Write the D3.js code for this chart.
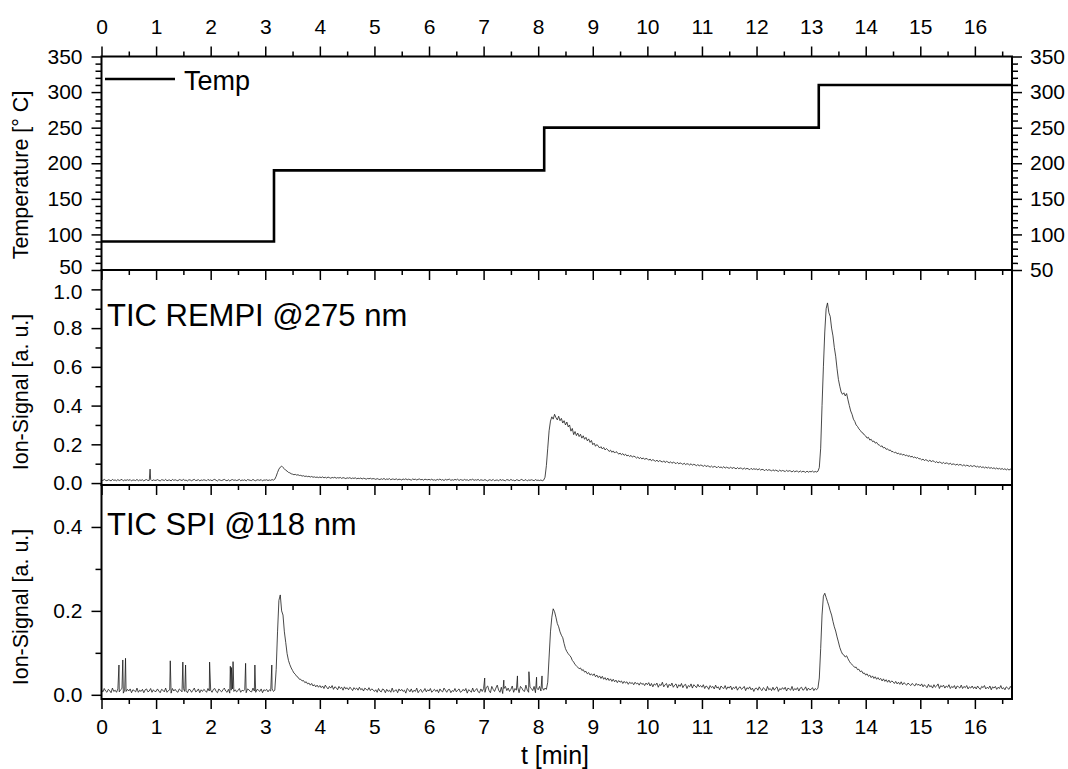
<!DOCTYPE html>
<html><head><meta charset="utf-8">
<script src="https://cdn.jsdelivr.net/npm/d3@7"></script>
<style>body{margin:0;background:#fff}svg{display:block}</style>
</head><body>
<svg id="c" width="1068" height="769"></svg>
<script>
// ---------- data ----------
const timeStart = 0, timeStep = 0.025; // sampling of the ion-signal traces (min)

const rempiValues = [
0.016,0.013,0.019,0.014,0.012,0.017,0.015,0.011,0.019,0.014,0.016,0.012,0.018,0.013,0.016,0.019,0.011,0.016,0.014,0.017,0.014,0.018,0.011,0.016,0.015,0.013,0.019,0.012,0.016,0.014,0.017,0.011,0.016,0.018,0.013,0.014,0.019,0.012,0.016,0.014,
0.014,0.018,0.014,0.011,0.017,0.016,0.013,0.019,0.012,0.015,0.016,0.011,0.019,0.014,0.017,0.014,0.012,0.018,0.016,0.013,0.019,0.014,0.015,0.011,0.017,0.016,0.012,0.016,0.019,0.013,0.014,0.018,0.011,0.016,0.014,0.017,0.015,0.012,0.019,0.014,
0.016,0.012,0.017,0.019,0.014,0.011,0.018,0.015,0.013,0.016,0.019,0.014,0.012,0.017,0.011,0.016,0.018,0.014,0.016,0.013,0.015,0.019,0.012,0.016,0.014,0.017,0.011,0.018,0.016,0.014,0.013,0.019,0.014,0.012,0.017,0.016,0.014,0.018,0.011,0.016,
0.015,0.017,0.013,0.016,0.014,0.018,0.015,0.020,0.035,0.055,0.072,0.082,0.088,0.080,0.074,0.066,0.062,0.055,0.053,0.048,0.046,0.043,0.045,0.041,0.043,0.039,0.040,0.036,0.038,0.034,0.036,0.033,0.035,0.031,0.034,0.030,0.032,0.029,0.031,0.028,
0.031,0.028,0.032,0.027,0.030,0.026,0.031,0.028,0.025,0.029,0.027,0.030,0.025,0.028,0.026,0.029,0.024,0.028,0.026,0.023,0.027,0.025,0.028,0.023,0.026,0.024,0.027,0.022,0.025,0.023,0.026,0.021,0.025,0.023,0.020,0.024,0.022,0.025,0.021,0.023,
0.022,0.019,0.023,0.020,0.018,0.022,0.019,0.024,0.018,0.021,0.019,0.023,0.017,0.021,0.020,0.018,0.022,0.017,0.020,0.019,0.016,0.021,0.018,0.022,0.017,0.020,0.018,0.015,0.021,0.018,0.020,0.016,0.019,0.021,0.017,0.019,0.015,0.020,0.018,0.017,
0.019,0.016,0.020,0.015,0.017,0.014,0.019,0.016,0.021,0.015,0.018,0.013,0.019,0.016,0.018,0.020,0.014,0.017,0.015,0.019,0.016,0.020,0.013,0.018,0.016,0.014,0.019,0.015,0.017,0.013,0.018,0.016,0.020,0.014,0.017,0.015,0.019,0.013,0.017,0.015,
0.014,0.018,0.014,0.011,0.017,0.016,0.013,0.019,0.012,0.015,0.016,0.011,0.019,0.014,0.017,0.014,0.012,0.018,0.016,0.013,0.019,0.014,0.015,0.011,0.017,0.016,0.012,0.016,0.019,0.013,0.014,0.018,0.011,0.016,0.014,0.017,0.015,0.012,0.018,0.014,
0.015,0.013,0.016,0.012,0.015,0.030,0.090,0.180,0.270,0.320,0.342,0.330,0.355,0.338,0.326,0.345,0.322,0.334,0.310,0.322,0.300,0.315,0.290,0.300,0.268,0.282,0.250,0.266,0.245,0.258,0.240,0.252,0.232,0.244,0.226,0.236,0.218,0.228,0.210,0.220,
0.198,0.206,0.190,0.199,0.191,0.181,0.188,0.176,0.184,0.171,0.178,0.172,0.163,0.170,0.159,0.166,0.155,0.162,0.158,0.149,0.155,0.146,0.152,0.143,0.149,0.140,0.144,0.137,0.143,0.134,0.139,0.136,0.129,0.135,0.126,0.132,0.124,0.130,0.122,0.127,
0.125,0.118,0.124,0.115,0.121,0.117,0.112,0.119,0.110,0.116,0.113,0.108,0.115,0.106,0.112,0.109,0.104,0.110,0.102,0.108,0.105,0.100,0.107,0.099,0.104,0.101,0.096,0.103,0.095,0.100,0.098,0.093,0.100,0.092,0.097,0.094,0.089,0.096,0.088,0.093,
0.091,0.086,0.093,0.085,0.089,0.087,0.082,0.088,0.081,0.086,0.084,0.079,0.086,0.080,0.083,0.078,0.085,0.077,0.082,0.079,0.076,0.083,0.075,0.080,0.078,0.073,0.080,0.074,0.078,0.076,0.071,0.078,0.072,0.076,0.073,0.069,0.076,0.070,0.074,0.071,
0.073,0.068,0.074,0.067,0.071,0.069,0.064,0.071,0.065,0.069,0.067,0.062,0.069,0.063,0.067,0.064,0.060,0.067,0.061,0.065,0.063,0.059,0.066,0.060,0.064,0.062,0.057,0.064,0.058,0.062,0.061,0.056,0.063,0.057,0.061,0.059,0.055,0.062,0.056,0.060,
0.058,0.062,0.056,0.060,0.057,0.061,0.080,0.180,0.400,0.600,0.780,0.900,0.930,0.880,0.860,0.800,0.760,0.700,0.655,0.590,0.535,0.500,0.470,0.458,0.466,0.450,0.462,0.430,0.400,0.372,0.355,0.330,0.318,0.300,0.292,0.280,0.272,0.262,0.258,0.248,
0.243,0.232,0.236,0.222,0.226,0.214,0.217,0.206,0.210,0.199,0.196,0.189,0.192,0.181,0.184,0.174,0.177,0.168,0.171,0.162,0.163,0.156,0.160,0.151,0.155,0.147,0.152,0.144,0.149,0.141,0.145,0.137,0.142,0.134,0.139,0.131,0.135,0.128,0.132,0.125,
0.126,0.119,0.124,0.116,0.121,0.117,0.112,0.119,0.110,0.115,0.113,0.106,0.111,0.104,0.109,0.106,0.101,0.107,0.100,0.104,0.102,0.097,0.103,0.095,0.099,0.097,0.093,0.098,0.092,0.096,0.094,0.089,0.095,0.088,0.092,0.090,0.086,0.091,0.085,0.089,
0.089,0.083,0.087,0.081,0.086,0.080,0.084,0.078,0.083,0.077,0.082,0.076,0.080,0.075,0.079,0.073,0.078,0.072,0.076,0.071,0.075,0.070,0.074,0.068,0.073,0.067,0.072,0.066,0.070
];
const rempiSpikes = [[0.89, 0.072]];

const spiValues = [
0.012,0.007,0.015,0.009,0.006,0.013,0.010,0.005,0.016,0.008,0.011,0.006,0.014,0.007,0.012,0.015,0.004,0.011,0.008,0.013,0.009,0.014,0.005,0.012,0.010,0.007,0.016,0.006,0.011,0.008,0.013,0.005,0.012,0.014,0.007,0.009,0.015,0.006,0.012,0.008,
0.008,0.014,0.009,0.005,0.013,0.011,0.007,0.016,0.006,0.010,0.012,0.004,0.015,0.009,0.013,0.008,0.006,0.014,0.011,0.007,0.015,0.008,0.010,0.005,0.013,0.012,0.006,0.011,0.016,0.007,0.009,0.014,0.005,0.012,0.008,0.013,0.010,0.006,0.015,0.009,
0.011,0.006,0.013,0.015,0.008,0.005,0.014,0.010,0.007,0.012,0.016,0.009,0.006,0.013,0.004,0.011,0.014,0.008,0.012,0.007,0.010,0.015,0.006,0.011,0.009,0.013,0.005,0.014,0.012,0.008,0.007,0.016,0.009,0.006,0.013,0.011,0.008,0.014,0.005,0.012,
0.010,0.013,0.007,0.012,0.009,0.014,0.008,0.011,0.060,0.150,0.225,0.238,0.200,0.190,0.150,0.125,0.098,0.082,0.072,0.064,0.058,0.052,0.049,0.044,0.042,0.037,0.037,0.033,0.034,0.029,0.031,0.026,0.028,0.023,0.027,0.021,0.024,0.019,0.023,0.018,
0.022,0.017,0.021,0.015,0.023,0.018,0.014,0.020,0.016,0.022,0.013,0.019,0.017,0.012,0.020,0.015,0.018,0.011,0.019,0.014,0.017,0.012,0.018,0.015,0.010,0.017,0.013,0.016,0.011,0.018,0.012,0.015,0.009,0.016,0.013,0.011,0.017,0.010,0.014,0.012,
0.008,0.012,0.006,0.015,0.009,0.007,0.014,0.012,0.005,0.013,0.008,0.011,0.006,0.016,0.007,0.010,0.012,0.005,0.014,0.009,0.013,0.008,0.011,0.004,0.015,0.012,0.007,0.014,0.006,0.011,0.008,0.016,0.005,0.010,0.013,0.006,0.009,0.015,0.007,0.012,
0.009,0.015,0.006,0.010,0.013,0.008,0.012,0.005,0.014,0.009,0.007,0.016,0.011,0.006,0.012,0.013,0.005,0.010,0.008,0.015,0.007,0.011,0.014,0.006,0.008,0.013,0.009,0.015,0.004,0.012,0.010,0.006,0.016,0.007,0.011,0.015,0.007,0.005,0.014,0.008,
0.015,0.006,0.018,0.021,0.010,0.005,0.020,0.013,0.008,0.016,0.023,0.011,0.006,0.018,0.003,0.015,0.020,0.010,0.016,0.008,0.013,0.021,0.006,0.015,0.011,0.018,0.005,0.020,0.016,0.010,0.008,0.023,0.011,0.006,0.018,0.015,0.010,0.020,0.005,0.016,
0.012,0.020,0.009,0.018,0.011,0.016,0.013,0.030,0.090,0.150,0.185,0.205,0.198,0.185,0.170,0.162,0.150,0.142,0.136,0.122,0.110,0.103,0.098,0.094,0.090,0.082,0.078,0.072,0.069,0.066,0.062,0.064,0.058,0.060,0.054,0.056,0.050,0.053,0.047,0.050,
0.046,0.050,0.043,0.047,0.041,0.045,0.039,0.044,0.037,0.041,0.035,0.040,0.034,0.038,0.032,0.037,0.031,0.035,0.029,0.034,0.030,0.033,0.027,0.032,0.028,0.031,0.025,0.030,0.027,0.029,0.024,0.030,0.026,0.028,0.023,0.029,0.025,0.027,0.022,0.028,
0.024,0.029,0.021,0.027,0.019,0.026,0.023,0.028,0.018,0.025,0.022,0.030,0.019,0.024,0.027,0.017,0.025,0.021,0.028,0.018,0.023,0.026,0.016,0.024,0.020,0.027,0.017,0.023,0.025,0.015,0.022,0.019,0.026,0.016,0.024,0.021,0.017,0.025,0.019,0.022,
0.018,0.024,0.015,0.021,0.019,0.013,0.022,0.017,0.020,0.014,0.023,0.016,0.019,0.012,0.021,0.017,0.015,0.022,0.013,0.019,0.016,0.021,0.012,0.018,0.015,0.020,0.011,0.017,0.019,0.013,0.016,0.020,0.010,0.017,0.014,0.019,0.012,0.016,0.008,0.015,
0.016,0.011,0.019,0.013,0.010,0.017,0.014,0.009,0.020,0.012,0.015,0.010,0.018,0.011,0.016,0.019,0.008,0.015,0.012,0.017,0.013,0.018,0.009,0.016,0.014,0.011,0.020,0.010,0.015,0.012,0.017,0.009,0.016,0.018,0.011,0.013,0.019,0.010,0.016,0.012,
0.013,0.017,0.010,0.015,0.012,0.016,0.040,0.110,0.190,0.235,0.242,0.232,0.222,0.212,0.200,0.190,0.175,0.162,0.152,0.138,0.126,0.113,0.104,0.097,0.095,0.090,0.093,0.086,0.080,0.075,0.072,0.069,0.065,0.066,0.060,0.061,0.055,0.057,0.051,0.052,
0.047,0.050,0.044,0.047,0.041,0.045,0.039,0.043,0.037,0.041,0.036,0.039,0.033,0.038,0.032,0.036,0.030,0.035,0.029,0.033,0.031,0.027,0.032,0.026,0.030,0.025,0.031,0.024,0.029,0.026,0.023,0.028,0.025,0.022,0.027,0.024,0.021,0.027,0.023,0.025,
0.021,0.026,0.019,0.024,0.020,0.017,0.025,0.019,0.022,0.016,0.024,0.018,0.021,0.026,0.015,0.022,0.019,0.023,0.016,0.021,0.018,0.024,0.015,0.020,0.017,0.022,0.014,0.021,0.019,0.016,0.023,0.015,0.020,0.017,0.022,0.014,0.019,0.016,0.021,0.015,
0.019,0.014,0.021,0.016,0.013,0.020,0.017,0.022,0.014,0.018,0.015,0.021,0.012,0.019,0.016,0.020,0.013,0.018,0.015,0.022,0.014,0.017,0.012,0.019,0.016,0.013,0.020,0.015,0.017
];
const spiSpikes = [
[0.32,0.071],[0.39,0.083],[0.44,0.087],[1.26,0.081],[1.49,0.078],[1.54,0.071],[1.98,0.078],
[2.36,0.068],[2.38,0.065],[2.41,0.079],[2.64,0.075],[2.81,0.071],[3.12,0.071],
[7.02,0.040],[7.37,0.035],[7.62,0.045],[7.83,0.055],[7.97,0.042],[8.07,0.045]
];

const tempTimes  = [0, 3.16, 8.11, 13.14, 16.68];
const tempValues = [90, 190, 250, 310, 310];

const xTickValues   = [0,1,2,3,4,5,6,7,8,9,10,11,12,13,14,15,16];
const tempTickValues = [50,100,150,200,250,300,350];
const rempiTickValues = [0.0,0.2,0.4,0.6,0.8,1.0];
const spiTickValues = [0.0,0.2,0.4];

const tempTitle = "Temperature [° C]";
const rempiTitle = "Ion-Signal [a. u.]";
const spiTitle = "Ion-Signal [a. u.]";
const xTitle = "t [min]";
const legendLabel = "Temp";
const rempiLabel = "TIC REMPI @275 nm";
const spiLabel = "TIC SPI @118 nm";

// ---------- drawing ----------
const FONT = '"Liberation Sans", Arial, Helvetica, sans-serif';
const svg = d3.select('#c');
const L = 101.5, R = 1012;
const P1 = [56.5, 270], P2 = [270, 485], P3 = [485, 699];

const x = d3.scaleLinear().domain([0, 16.68]).range([L, R]);
const yT = d3.scaleLinear().domain([50, 350]).range([P1[1], P1[0]]);
const yR = d3.scaleLinear().domain([-0.01, 1.1]).range([P2[1], P2[0]]);
const yS = d3.scaleLinear().domain([-0.01, 0.5]).range([P3[1], P3[0]]);

function buildSeries(values, spikes) {
  const pts = values.map((v, i) => [timeStart + i * timeStep, v]);
  spikes.forEach(s => pts.push(s));
  pts.sort((a, b) => a[0] - b[0]);
  return pts;
}

function axis(gen, scale, ticks, size, pad, fmt, transform) {
  const a = gen(scale).tickValues(ticks).tickSize(size).tickPadding(pad)
    .tickFormat(fmt ? fmt : () => '');
  const g = svg.append('g').attr('transform', transform).call(a)
    .attr('font-size', 21).attr('font-family', FONT);
  g.select('.domain').remove();
  g.selectAll('line').attr('stroke', '#000').attr('stroke-width', 1.5);
  g.selectAll('text').attr('fill', '#000');
  return g;
}

const xMinor = d3.range(0.5, 16.68, 1);
const f1 = d3.format('.1f'), fd = d3.format('d');

// x axes
axis(d3.axisTop, x, xTickValues, 10, 13, fd, `translate(0,${P1[0]})`);
axis(d3.axisTop, x, xMinor, 5, 0, null, `translate(0,${P1[0]})`);
[P1[1], P2[1]].forEach(yy => {
  axis(d3.axisBottom, x, xTickValues, 10, 0, null, `translate(0,${yy})`);
  axis(d3.axisBottom, x, xMinor, 5, 0, null, `translate(0,${yy})`);
});
axis(d3.axisBottom, x, xTickValues, 10, 10, fd, `translate(0,${P3[1]})`);
axis(d3.axisBottom, x, xMinor, 5, 0, null, `translate(0,${P3[1]})`);

// y axes
const tempMinor = d3.range(60, 350, 10).filter(v => v % 50 !== 0);
const gTL = axis(d3.axisLeft, yT, tempTickValues, 10, 9, fd, `translate(${L},0)`);
axis(d3.axisLeft, yT, tempMinor, 6, 0, null, `translate(${L},0)`);
axis(d3.axisRight, yT, tempTickValues, 10, 8, fd, `translate(${R},0)`);
axis(d3.axisRight, yT, tempMinor, 6, 0, null, `translate(${R},0)`);

const gRL = axis(d3.axisLeft, yR, rempiTickValues, 10, 9, f1, `translate(${L},0)`);
axis(d3.axisLeft, yR, [0.1,0.3,0.5,0.7,0.9], 6, 0, null, `translate(${L},0)`);

axis(d3.axisLeft, yS, spiTickValues, 10, 9, f1, `translate(${L},0)`);
axis(d3.axisLeft, yS, [0.1,0.3], 6, 0, null, `translate(${L},0)`);

// the stacked "50" / "1.0" labels at the panel join sit tightly, as in the original
gTL.selectAll('.tick').filter(d => d === 50).select('text').attr('y', -3);
gRL.selectAll('.tick').filter(d => d === 1.0).select('text').attr('y', 2);

// clip paths
const defs = svg.append('defs');
[['c1', P1], ['c2', P2], ['c3', P3]].forEach(([id, p]) => {
  defs.append('clipPath').attr('id', id).append('rect')
    .attr('x', L).attr('y', p[0]).attr('width', R - L).attr('height', p[1] - p[0]);
});

// temperature step line
const tempPts = tempTimes.map((t, i) => [t, tempValues[i]]);
svg.append('path').attr('clip-path', 'url(#c1)')
  .attr('d', d3.line().x(d => x(d[0])).y(d => yT(d[1])).curve(d3.curveStepAfter)(tempPts))
  .attr('fill', 'none').attr('stroke', '#000').attr('stroke-width', 2.6);

// REMPI trace
svg.append('path').attr('clip-path', 'url(#c2)')
  .attr('d', d3.line().x(d => x(d[0])).y(d => yR(d[1]))(buildSeries(rempiValues, rempiSpikes)))
  .attr('fill', 'none').attr('stroke', '#1a1a1a').attr('stroke-width', 0.8);

// SPI trace
svg.append('path').attr('clip-path', 'url(#c3)')
  .attr('d', d3.line().x(d => x(d[0])).y(d => yS(d[1]))(buildSeries(spiValues, spiSpikes)))
  .attr('fill', 'none').attr('stroke', '#1a1a1a').attr('stroke-width', 0.8);

// frames
[P1, P2, P3].forEach(p => {
  svg.append('rect').attr('x', L).attr('y', p[0]).attr('width', R - L).attr('height', p[1] - p[0])
    .attr('fill', 'none').attr('stroke', '#000').attr('stroke-width', 2);
});

// legend
svg.append('line').attr('x1', 105).attr('x2', 175).attr('y1', 79).attr('y2', 79)
  .attr('stroke', '#000').attr('stroke-width', 2.6);
svg.append('text').attr('x', 184).attr('y', 90).attr('font-size', 27).attr('font-family', FONT)
  .text(legendLabel);

// panel labels
svg.append('text').attr('x', 107).attr('y', 326).attr('font-size', 31).attr('font-family', FONT).text(rempiLabel);
svg.append('text').attr('x', 107).attr('y', 535).attr('font-size', 31).attr('font-family', FONT).text(spiLabel);

// axis titles
function ytitle(txt, cy) {
  svg.append('text').attr('transform', `translate(28,${cy}) rotate(-90)`)
    .attr('text-anchor', 'middle').attr('font-size', 21.5).attr('font-family', FONT).text(txt);
}
ytitle(tempTitle, 175);
ytitle(rempiTitle, 392);
ytitle(spiTitle, 607);
svg.append('text').attr('x', 555).attr('y', 764).attr('text-anchor', 'middle')
  .attr('font-size', 25).attr('font-family', FONT).text(xTitle);
</script>
</body></html>
